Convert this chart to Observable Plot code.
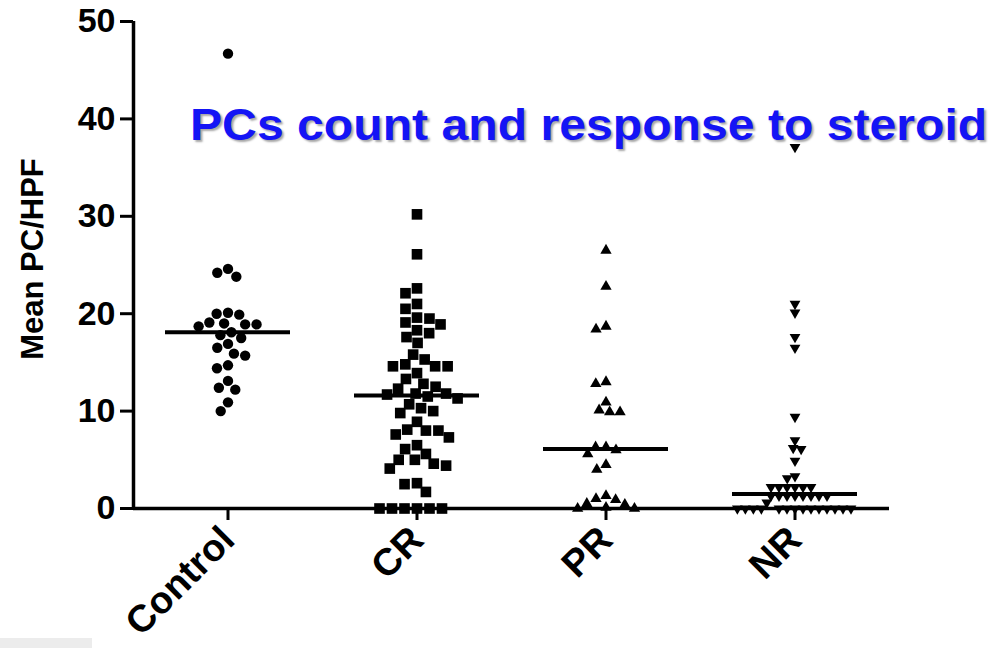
<!DOCTYPE html>
<html><head><meta charset="utf-8">
<script src="https://cdn.jsdelivr.net/npm/d3@7"></script>
<script src="https://cdn.jsdelivr.net/npm/@observablehq/plot@0.6"></script>
<style>
html,body{margin:0;padding:0;background:#fff;}
#wrap{position:relative;width:1000px;height:648px;overflow:hidden;font-family:"Liberation Sans",Arial,sans-serif;}
#title{position:absolute;left:190px;top:102px;font-size:45px;font-weight:bold;color:#1414f5;line-height:45px;white-space:nowrap;text-shadow:2px 2px 2px rgba(0,0,0,0.35);transform:scaleX(1.07);transform-origin:0 0;}
#smudge{position:absolute;left:0;top:638px;width:92px;height:10px;background:#ececec;}
</style></head><body>
<div id="wrap"><div id="chart"></div><div id="title"></div><div id="smudge"></div></div>
<script>
const groups = ["Control", "CR", "PR", "NR"];
const controlValues = [46.7, 24.6, 24.2, 23.8, 20.1, 20.0, 19.9, 19.1, 19.0, 18.9, 18.9, 18.7, 18.1, 17.8, 17.5, 16.9, 16.5, 15.9, 15.7, 14.7, 14.4, 13.1, 12.4, 12.2, 10.9, 10.0];
const crValues = [30.2, 26.1, 22.6, 22.1, 21.0, 20.5, 19.6, 19.5, 19.1, 18.9, 18.3, 18.0, 17.6, 17.0, 15.8, 15.3, 14.8, 14.6, 14.6, 14.6, 13.9, 13.3, 12.8, 12.5, 12.3, 11.8, 11.8, 11.7, 11.5, 11.3, 10.7, 10.3, 10.0, 9.8, 8.9, 8.1, 8.0, 8.0, 7.6, 7.3, 6.5, 6.1, 5.6, 5.0, 5.0, 4.6, 4.4, 4.1, 2.6, 2.5, 1.7, 0, 0, 0, 0, 0, 0];
const prValues = [26.5, 22.8, 18.7, 18.4, 13.0, 12.8, 10.9, 10.1, 9.9, 9.9, 6.3, 6.3, 6.0, 5.6, 4.5, 4.0, 1.3, 1.0, 0.9, 0.5, 0.4, 0.1, 0, 0];
const nrValues = [37.1, 21.0, 20.1, 17.6, 16.5, 9.4, 7.0, 6.2, 6.1, 4.9, 3.3, 3.1, 2.2, 2.2, 2.2, 2.2, 2.2, 2.2, 1.3, 1.3, 1.3, 1.3, 1.3, 1.3, 1.3, 1.3, 0.6, 0, 0, 0, 0, 0, 0, 0, 0, 0, 0, 0, 0, 0, 0];
const medianValues = [18.1, 11.6, 6.1, 1.5];
const yTicks = [0, 10, 20, 30, 40, 50];
const yLabel = "Mean PC/HPF";
const titleText = "PCs count and response to steroid";

document.getElementById("title").textContent = titleText;

const rows = (g, vals) => vals.map(v => ({group: g, value: v}));
const medianRows = groups.map((g, i) => ({group: g, value: medianValues[i]}));

const sqrt3 = Math.sqrt(3);
const triangleDown = {
  draw(context, size) {
    const y = -Math.sqrt(size / (sqrt3 * 3));
    context.moveTo(0, -y * 2);
    context.lineTo(-sqrt3 * y, y);
    context.lineTo(sqrt3 * y, y);
    context.closePath();
  }
};

const font = "'Liberation Sans', Arial, sans-serif";

const chart = Plot.plot({
  width: 1000,
  height: 648,
  marginLeft: 133,
  marginRight: 111,
  marginTop: 21,
  marginBottom: 140,
  style: {fontFamily: font, background: "white", color: "black", overflow: "visible"},
  fx: {domain: groups, padding: 0, label: null},
  x: {domain: [0, 1], axis: null},
  y: {domain: [0, 50]},
  marks: [
    Plot.dot(rows("Control", controlValues), Plot.dodgeX({anchor: "middle", padding: 1}, {fx: "group", y: "value", r: 5.2, symbol: "circle", fill: "black"})),
    Plot.dot(rows("CR", crValues), Plot.dodgeX({anchor: "middle", padding: 0.5}, {fx: "group", y: "value", r: 6, symbol: "square", fill: "black"})),
    Plot.dot(rows("PR", prValues), Plot.dodgeX({anchor: "middle", padding: 2}, {fx: "group", y: "value", r: 4.2, symbol: "triangle", fill: "black"})),
    Plot.dot(rows("NR", nrValues), Plot.dodgeX({anchor: "middle", padding: 0}, {fx: "group", y: "value", r: 4, symbol: triangleDown, fill: "black"})),
    Plot.tickY(medianRows, {fx: "group", y: "value", stroke: "black", strokeWidth: 4, insetLeft: 32, insetRight: 32}),
    Plot.ruleY([0], {stroke: "black", strokeWidth: 3.5}),
    Plot.ruleX([{group: "Control", v: 0}], {fx: "group", x: "v", y1: 0, y2: 50, stroke: "black", strokeWidth: 3.5}),
    Plot.axisY({ticks: yTicks, tickSize: 13, tickPadding: 5, strokeWidth: 3, fontSize: 34, fontWeight: "bold", label: null}),
    Plot.axisFx({anchor: "bottom", tickSize: 12, tickPadding: 13, strokeWidth: 3, tickRotate: -45, fontSize: 38, fontWeight: "bold", label: null}),
    Plot.text([{group: "Control", t: yLabel}], {fx: "group", text: "t", frameAnchor: "left", textAnchor: "middle", rotate: -90, dx: -100, dy: -6, fontSize: 31, fontWeight: "bold", fill: "black"})
  ]
});
document.getElementById("chart").appendChild(chart);
</script>
</body></html>
